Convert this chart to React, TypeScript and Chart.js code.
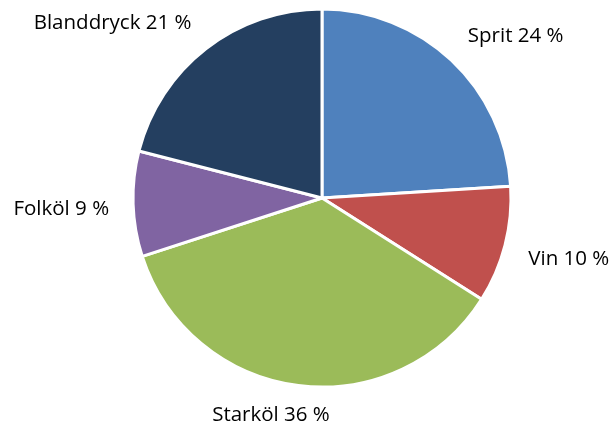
import React, { useEffect, useRef } from "react";
import { Chart, registerables } from "chart.js";

Chart.register(...registerables);

const categories = ["Sprit", "Vin", "Starköl", "Folköl", "Blanddryck"];
const shares = [24, 10, 36, 9, 21];
const colors = ["#4F81BD", "#C0504D", "#9BBB59", "#8064A2", "#243F60"];

const FONT = '20.5px "Open Sans", "Liberation Sans", sans-serif';

const outsideLabels = {
  id: "outsideLabels",
  afterDatasetsDraw(chart: any) {
    const ctx = chart.ctx;
    const meta = chart.getDatasetMeta(0);
    ctx.save();
    ctx.font = FONT;
    ctx.fillStyle = "#000000";
    ctx.textBaseline = "middle";
    meta.data.forEach((arc: any, i: number) => {
      const { x, y, startAngle, endAngle, outerRadius } = arc.getProps(
        ["x", "y", "startAngle", "endAngle", "outerRadius"],
        true
      );
      const mid = (startAngle + endAngle) / 2;
      const r = outerRadius + 24;
      const ax = x + Math.cos(mid) * r;
      const ay =
        y + Math.sin(mid) * r + 3.5 + 20 * Math.sin(mid) * Math.abs(Math.cos(mid));
      const text = `${categories[i]} ${shares[i]} %`;
      const w = ctx.measureText(text).width;
      const s = Math.max(-1, Math.min(1, Math.cos(mid) * 3.3));
      const cx = ax + (w / 2) * s;
      ctx.textAlign = "center";
      ctx.fillText(text, cx, ay);
    });
    ctx.restore();
  },
};

export default function App() {
  const ref = useRef<HTMLCanvasElement | null>(null);
  useEffect(() => {
    document.body.style.margin = "0";
    const canvas = ref.current!;
    const chart = new Chart(canvas, {
      type: "pie",
      data: {
        labels: categories,
        datasets: [
          {
            data: shares,
            backgroundColor: colors,
            borderColor: "#FFFFFF",
            borderWidth: 3,
            hoverOffset: 0,
          },
        ],
      },
      options: {
        responsive: false,
        animation: false,
        layout: {
          padding: { top: 7.5, bottom: 38.5, left: 131.5, right: 98.5 },
        },
        plugins: {
          legend: { display: false },
          tooltip: { enabled: false },
        },
      },
      plugins: [outsideLabels],
    });
    return () => chart.destroy();
  }, []);
  return (
    <div style={{ position: "fixed", left: 0, top: 0, width: 611, height: 427, background: "#fff" }}>
      <canvas ref={ref} width={611} height={427} />
    </div>
  );
}
